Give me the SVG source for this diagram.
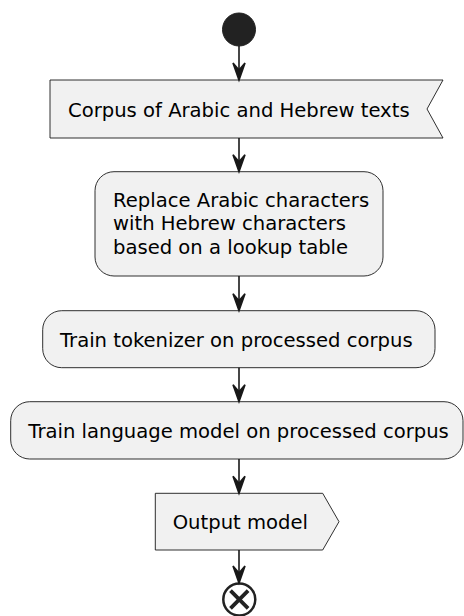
<svg xmlns="http://www.w3.org/2000/svg" width="464" height="616" viewBox="0 0 464 616">
<style>
.box{fill:#F1F1F1;stroke:#181818;stroke-width:0.9}
.t{font-family:"DejaVu Sans",sans-serif;font-size:19.6px;fill:#000}
.c{stroke:#181818;stroke-width:1.6;fill:none}
.ah{fill:#181818;stroke:#181818;stroke-width:1.6}
</style>
<defs>
<polygon id="arrow" points="-6,-17 0,0 6,-17 0,-10"/>
</defs>
<rect width="464" height="616" fill="#FFFFFF"/>
<g id="start"><circle cx="239" cy="29.5" r="16.5" fill="#222222" stroke="#222222" stroke-width="1"/></g>
<g id="n1"><polygon class="box" points="50,80 443,80 427,109 443,138 50,138"/><text class="t" x="68" y="116.5">Corpus of Arabic and Hebrew texts</text></g>
<g id="n2"><rect class="box" x="95" y="171.7" width="288" height="104.3" rx="19"/><text class="t" x="113" y="206.5">Replace Arabic characters</text><text class="t" x="113" y="230">with Hebrew characters</text><text class="t" x="113" y="253.5">based on a lookup table</text></g>
<g id="n3"><rect class="box" x="42.7" y="310.7" width="392.3" height="57" rx="19"/><text class="t" x="60" y="346.5">Train tokenizer on processed corpus</text></g>
<g id="n4"><rect class="box" x="10.7" y="401.7" width="452.3" height="57.3" rx="19"/><text class="t" x="28.3" y="438">Train language model on processed corpus</text></g>
<g id="n5"><polygon class="box" points="155.3,493.3 322.7,493.3 339,521.7 322.7,550 155.3,550"/><text class="t" x="172.7" y="529">Output model</text></g>
<g id="end"><circle cx="239.3" cy="599.5" r="16" fill="#FFFFFF" stroke="#222222" stroke-width="2.5"/><path d="M230.5,590.7 L248.1,608.3 M248.1,590.7 L230.5,608.3" stroke="#222222" stroke-width="3.8"/></g>
<g id="connectors">
<path class="c" d="M239,46 V79"/><use href="#arrow" class="ah" transform="translate(239,80)"/>
<path class="c" d="M239,138 V170"/><use href="#arrow" class="ah" transform="translate(239,171.7)"/>
<path class="c" d="M239,276 V309"/><use href="#arrow" class="ah" transform="translate(239,310.7)"/>
<path class="c" d="M239,367.7 V400"/><use href="#arrow" class="ah" transform="translate(239,401.7)"/>
<path class="c" d="M239,459 V492"/><use href="#arrow" class="ah" transform="translate(239,493.3)"/>
<path class="c" d="M239,550 V582"/><use href="#arrow" class="ah" transform="translate(239,583)"/>
</g>
</svg>
